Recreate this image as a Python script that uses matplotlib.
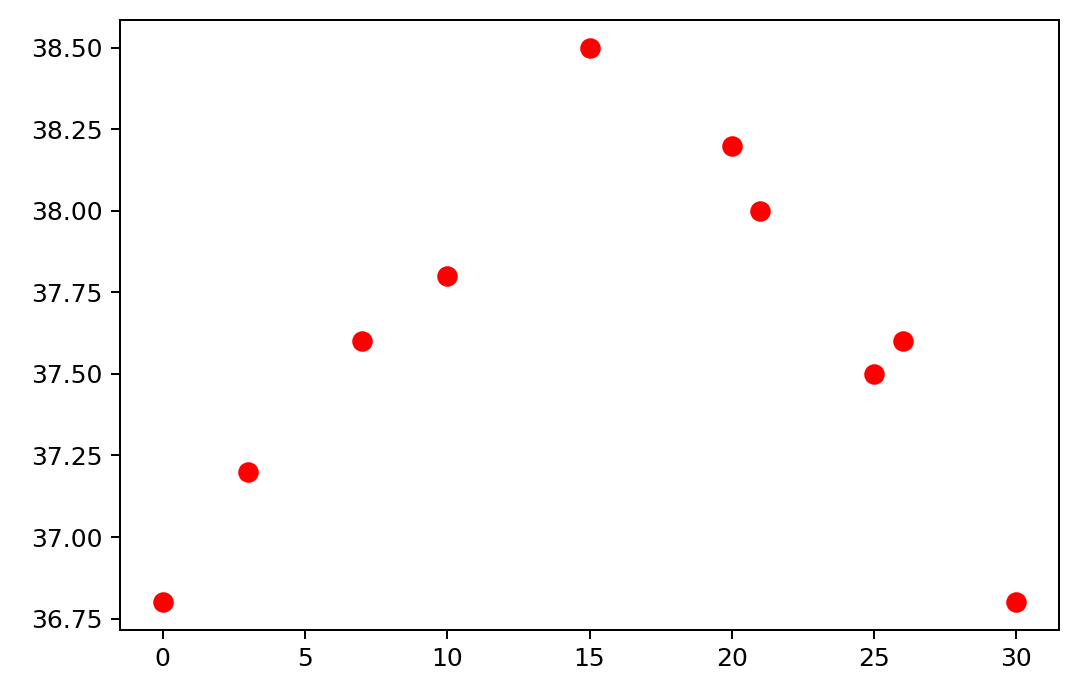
import matplotlib
matplotlib.use("Agg")
import matplotlib.pyplot as plt

days = [0, 3, 7, 10, 15, 20, 21, 25, 26, 30]
temps = [36.8, 37.2, 37.6, 37.8, 38.5, 38.2, 38.0, 37.5, 37.6, 36.8]

fig = plt.figure(figsize=(6, 697 / 180))
ax = fig.add_axes([120 / 1080, 1 - 630 / 697, (1059 - 120) / 1080, (630 - 20) / 697])
ax.scatter(days, temps, color='red', s=52)

plt.savefig("out.png", dpi=180)
